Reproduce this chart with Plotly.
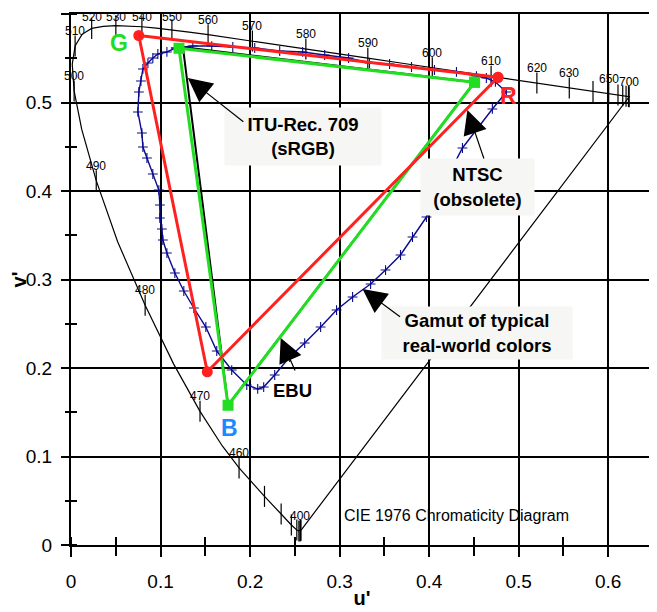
import plotly.graph_objects as go

# ---------------- data ----------------
wavelengths = [380, 390, 400, 410, 420, 430, 440, 450, 460, 465, 470, 475, 480, 485, 490, 495,
               500, 505, 510, 515, 520, 525, 530, 535, 540, 545, 550, 555, 560, 565, 570, 575,
               580, 585, 590, 595, 600, 605, 610, 615, 620, 625, 630, 640, 650, 660, 670, 680,
               690, 700]
locus_u = [0.2568, 0.2564, 0.2557, 0.2545, 0.2522, 0.2461, 0.2347, 0.2161, 0.1877, 0.1690,
           0.1441, 0.1147, 0.0828, 0.0521, 0.0282, 0.0119, 0.0035, 0.0014, 0.0046, 0.0123,
           0.0231, 0.0360, 0.0501, 0.0643, 0.0792, 0.0953, 0.1127, 0.1319, 0.1531, 0.1766,
           0.2026, 0.2312, 0.2623, 0.2960, 0.3315, 0.3681, 0.4035, 0.4379, 0.4692, 0.4968,
           0.5203, 0.5399, 0.5565, 0.5830, 0.6005, 0.6109, 0.6162, 0.6199, 0.6226, 0.6234]
locus_v = [0.0166, 0.0163, 0.0159, 0.0159, 0.0169, 0.0226, 0.0350, 0.0549, 0.0871, 0.1119,
           0.1510, 0.2044, 0.2708, 0.3427, 0.4117, 0.4698, 0.5131, 0.5432, 0.5638, 0.5770,
           0.5837, 0.5861, 0.5868, 0.5865, 0.5856, 0.5841, 0.5821, 0.5796, 0.5766, 0.5732,
           0.5694, 0.5651, 0.5604, 0.5554, 0.5501, 0.5446, 0.5393, 0.5342, 0.5296, 0.5254,
           0.5219, 0.5190, 0.5165, 0.5125, 0.5099, 0.5084, 0.5076, 0.5070, 0.5067, 0.5065]
labeled_nm = [400, 460, 470, 480, 490, 500, 510, 520, 530, 540, 550, 560, 570, 580, 590,
              600, 610, 620, 630, 650, 700]

pointer_u = [0.1171, 0.1361, 0.1572, 0.1807, 0.2052, 0.2331, 0.2587, 0.2833, 0.3100, 0.3334,
             0.3558, 0.3803, 0.4059, 0.4305, 0.4528, 0.4639, 0.4740, 0.4862, 0.4706, 0.4372,
             0.3970, 0.3814, 0.3680, 0.3513, 0.3346, 0.3145, 0.2966, 0.2788, 0.2610, 0.2442,
             0.2275, 0.2152, 0.2085, 0.1963, 0.1795, 0.1628, 0.1506, 0.1372, 0.1260, 0.1160,
             0.1071, 0.1026, 0.1015, 0.0993, 0.0993, 0.0981, 0.0914, 0.0848, 0.0803, 0.0792,
             0.0747, 0.0758, 0.0781, 0.0803, 0.0859, 0.0914, 0.0970, 0.1071]
pointer_v = [0.5616, 0.5638, 0.5638, 0.5627, 0.5616, 0.5582, 0.5571, 0.5537, 0.5503, 0.5446,
             0.5435, 0.5401, 0.5367, 0.5345, 0.5299, 0.5277, 0.5232, 0.5119, 0.4927, 0.4486,
             0.3706, 0.3480, 0.3277, 0.3107, 0.2949, 0.2802, 0.2655, 0.2463, 0.2282, 0.2124,
             0.1921, 0.1785, 0.1763, 0.1808, 0.1977, 0.2192, 0.2463, 0.2678, 0.2870, 0.3073,
             0.3299, 0.3446, 0.3571, 0.3695, 0.3842, 0.4011, 0.4192, 0.4373, 0.4497, 0.4655,
             0.4893, 0.5119, 0.5243, 0.5379, 0.5446, 0.5503, 0.5548, 0.5571]

primary_names = ["R", "G", "B"]
ntsc_u = [0.4769, 0.0757, 0.1522]
ntsc_v = [0.5285, 0.5757, 0.1957]
srgb_u = [0.4507, 0.1250, 0.1754]
srgb_v = [0.5229, 0.5625, 0.1579]
ebu_u = [0.4507, 0.1206, 0.1754]
ebu_v = [0.5229, 0.5613, 0.1579]

FONT = "Arial, Liberation Sans, sans-serif"
GREEN = "#22dd22"
RED = "#ff2020"
NAVY = "#0a0a8c"

Y_MAX = 0.6
PLOT_TOP_PX = 14      # page y of the top of the plot area
PX_PER_V = 885        # pixels per unit of v'


def closed(a):
    return list(a) + [a[0]]


fig = go.Figure()

# spectral locus + purple line
fig.add_trace(go.Scatter(x=closed(locus_u), y=closed(locus_v), mode="lines",
                         line=dict(color="black", width=1.2), hoverinfo="skip", showlegend=False))

# wavelength ticks
tick_u = [u for w, u in zip(wavelengths, locus_u) if w % 10 == 0]
tick_v = [v for w, v in zip(wavelengths, locus_v) if w % 10 == 0]
fig.add_trace(go.Scatter(x=tick_u, y=tick_v, mode="markers", cliponaxis=False,
                         marker=dict(symbol="line-ns", size=15, line=dict(color="black", width=1.2)),
                         hoverinfo="skip", showlegend=False))

# wavelength labels (kept inside the page near the top)
for w, u, v in zip(wavelengths, locus_u, locus_v):
    if w in labeled_nm:
        ypix = PLOT_TOP_PX + (Y_MAX - v) * PX_PER_V
        shift = min(15, ypix - 17)
        fig.add_annotation(x=u, y=v, text=str(w), showarrow=False, yshift=shift,
                           xanchor="center", yanchor="middle", borderpad=0,
                           font=dict(family=FONT, size=12, color="black"))

# Pointer gamut
fig.add_trace(go.Scatter(x=closed(pointer_u), y=closed(pointer_v), mode="lines+markers",
                         line=dict(color=NAVY, width=1.4),
                         marker=dict(symbol="cross-thin", size=7, line=dict(color=NAVY, width=1.1)),
                         hoverinfo="skip", showlegend=False))

# sRGB (black), EBU (green), NTSC (red)
fig.add_trace(go.Scatter(x=closed(srgb_u), y=closed(srgb_v), mode="lines",
                         line=dict(color="black", width=2), hoverinfo="skip", showlegend=False))
fig.add_trace(go.Scatter(x=closed(ebu_u), y=closed(ebu_v), mode="lines+markers",
                         line=dict(color=GREEN, width=3),
                         marker=dict(symbol="square", size=11, color=GREEN),
                         hoverinfo="skip", showlegend=False))
fig.add_trace(go.Scatter(x=closed(ntsc_u), y=closed(ntsc_v), mode="lines+markers",
                         line=dict(color=RED, width=3),
                         marker=dict(symbol="circle", size=11, color=RED),
                         hoverinfo="skip", showlegend=False))

# dummy traces for overlay axes (crossing minor ticks)
fig.add_trace(go.Scatter(x=[], y=[], xaxis="x2", yaxis="y", showlegend=False, hoverinfo="skip"))
fig.add_trace(go.Scatter(x=[], y=[], xaxis="x", yaxis="y2", showlegend=False, hoverinfo="skip"))

# primary letters
fig.add_annotation(x=ntsc_u[1], y=ntsc_v[1], text="<b>G</b>", showarrow=False, xshift=-20, yshift=-7,
                   font=dict(family=FONT, size=23, color=GREEN))
fig.add_annotation(x=ntsc_u[0], y=ntsc_v[0], text="<b>R</b>", showarrow=False, xshift=10, yshift=-19,
                   font=dict(family=FONT, size=23, color=RED))
fig.add_annotation(x=ebu_u[2], y=ebu_v[2], text="<b>B</b>", showarrow=False, xshift=1, yshift=-23,
                   font=dict(family=FONT, size=23, color="#1e88ff"))

bold = dict(family=FONT, size=18.5, color="black")
BOX = "#f6f6f4"
fig.add_annotation(x=0.2587, y=0.4616, text="<b>ITU-Rec. 709<br>(sRGB)</b>", showarrow=False,
                   width=156, height=57, bgcolor=BOX, borderpad=0, font=bold)
fig.add_annotation(x=0.4544, y=0.4045, text="<b>NTSC<br>(obsolete)</b>", showarrow=False,
                   width=113, height=56, bgcolor=BOX, borderpad=0, font=bold)
fig.add_annotation(x=0.4539, y=0.2395, text="<b>Gamut of typical<br>real-world colors</b>",
                   showarrow=False, width=190, height=52, bgcolor=BOX, borderpad=0, font=bold)
fig.add_annotation(x=0.2476, y=0.1751, text="<b>EBU</b>", showarrow=False, font=bold)

# arrows
for (tx, ty, ax, ay) in [(0.1305, 0.5277, 57, 45), (0.4427, 0.4915, 17, 50),
                         (0.3256, 0.2893, 39, 29), (0.2342, 0.2339, 15, 34)]:
    fig.add_annotation(x=tx, y=ty, text="", showarrow=True, ax=ax, ay=ay,
                       arrowhead=2, arrowsize=4, arrowwidth=1.2, arrowcolor="black")

fig.add_annotation(x=0.3022, y=0.0339, text="CIE 1976 Chromaticity Diagram", showarrow=False,
                   xanchor="left", font=dict(family=FONT, size=16, color="black"))

axis_common = dict(showgrid=True, gridcolor="black", gridwidth=2, showline=True, linecolor="black",
                   linewidth=2, mirror=True, ticks="outside", tickwidth=2, tickcolor="black",
                   zeroline=False, automargin=False,
                   tickfont=dict(family=FONT, size=19, color="black"))

# the page body adds an 8px offset; margins compensate
fig.update_layout(
    width=657, height=612,
    margin=dict(l=63, r=12, t=6, b=75),
    paper_bgcolor="white", plot_bgcolor="white",
    font=dict(family=FONT, color="black"),
    xaxis=dict(range=[0, 0.65], tick0=0, dtick=0.1, ticklen=10, ticklabelstandoff=8,
               minor=dict(dtick=0.05, ticks="inside", ticklen=8, tickwidth=1.5, tickcolor="black"),
               title=dict(text="<b>u'</b>", font=dict(family=FONT, size=20, color="black"), standoff=0),
               **axis_common),
    yaxis=dict(range=[0, Y_MAX], tick0=0, dtick=0.1, ticklen=8, ticklabelstandoff=5,
               minor=dict(dtick=0.05, ticks="inside", ticklen=6, tickwidth=1.5, tickcolor="black"),
               title=dict(text="<b>v'</b>", font=dict(family=FONT, size=20, color="black"), standoff=0),
               **axis_common),
    xaxis2=dict(overlaying="x", matches="x", anchor="y", side="bottom", showgrid=False,
                zeroline=False, showline=False, showticklabels=False, ticks="outside",
                automargin=False,
                tick0=0.05, dtick=0.1, ticklen=10, tickwidth=1.5, tickcolor="black"),
    yaxis2=dict(overlaying="y", matches="y", anchor="x", side="left", showgrid=False,
                zeroline=False, showline=False, showticklabels=False, ticks="outside",
                automargin=False,
                tick0=0.05, dtick=0.1, ticklen=5, tickwidth=1.5, tickcolor="black"),
    showlegend=False,
)

fig.write_html("out.html")
